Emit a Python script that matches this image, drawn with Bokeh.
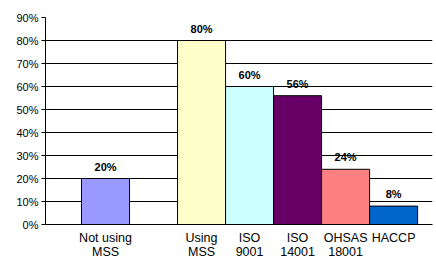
from bokeh.plotting import figure
from bokeh.models import NumeralTickFormatter, FixedTicker, ColumnDataSource, Range1d
from bokeh.core.properties import value
from bokeh.embed import file_html
from bokeh.resources import INLINE

categories = ["Not using\nMSS", "Using\nMSS", "ISO\n9001", "ISO\n14001", "OHSAS\n18001", "HACCP"]
values = [0.20, 0.80, 0.60, 0.56, 0.24, 0.08]
labels = ["20%", "80%", "60%", "56%", "24%", "8%"]
colors = ["#9999FF", "#FFFFCC", "#CCFFFF", "#660066", "#FF8080", "#0066CC"]
yticks = [0.0, 0.1, 0.2, 0.3, 0.4, 0.5, 0.6, 0.7, 0.8, 0.9]

# first bar stands alone; the others sit side by side after a gap
xs = [1.25 if i == 0 else i + 2.25 for i in range(len(categories))]

src = ColumnDataSource(dict(x=xs, top=values, color=colors, label=labels))

p = figure(width=434, height=262, output_backend="svg", toolbar_location=None,
           x_range=Range1d(0, 8.06), y_range=Range1d(0, 0.9),
           min_border_left=45, min_border_right=2, min_border_top=17, min_border_bottom=30)
p.outline_line_color = None
p.background_fill_color = "white"

p.vbar(x="x", top="top", width=1.0, fill_color="color", line_color="black", line_width=1, source=src)
p.text(x="x", y="top", text="label", source=src, text_align="center", text_baseline="bottom",
       y_offset=-6, text_font_size="11px", text_font_style="bold", text_color="black",
       text_font=value("Liberation Sans"))

p.xgrid.visible = False
p.ygrid.ticker = FixedTicker(ticks=yticks)
p.ygrid.grid_line_color = "black"
p.ygrid.grid_line_width = 1

p.yaxis.ticker = FixedTicker(ticks=yticks)
p.yaxis.formatter = NumeralTickFormatter(format="0%")
p.yaxis.major_tick_out = 4
p.yaxis.major_tick_in = 0
p.yaxis.minor_tick_line_color = None
p.yaxis.axis_line_color = "black"
p.yaxis.major_label_text_font = "Liberation Sans"
p.yaxis.major_label_text_font_size = "11px"
p.yaxis.major_label_text_color = "black"
p.yaxis.major_label_standoff = 3

p.xaxis.ticker = FixedTicker(ticks=xs)
p.xaxis.major_label_overrides = {x: c for x, c in zip(xs, categories)}
p.xaxis.major_tick_out = 0
p.xaxis.major_tick_in = 0
p.xaxis.minor_tick_line_color = None
p.xaxis.axis_line_color = "black"
p.xaxis.major_label_text_font = "Liberation Sans"
p.xaxis.major_label_text_font_size = "12.5px"
p.xaxis.major_label_text_line_height = 1.05
p.xaxis.major_label_text_color = "black"
p.xaxis.major_label_standoff = 6

open("out.html", "w").write(file_html(p, INLINE))
